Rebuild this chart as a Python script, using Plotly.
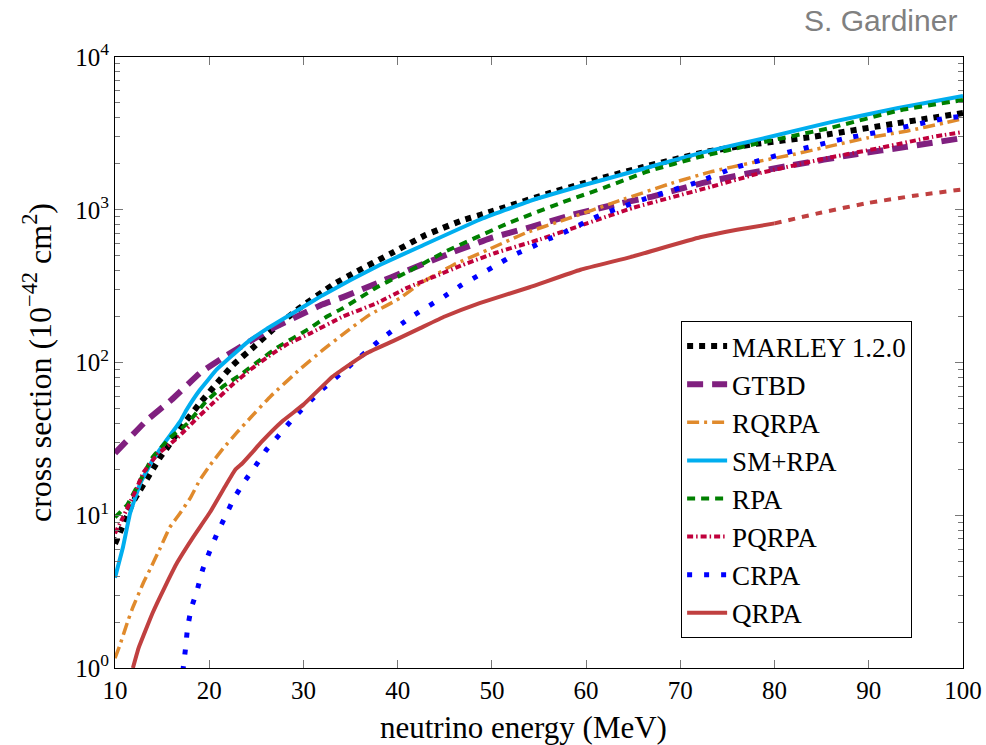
import plotly.graph_objects as go

# ---------------- data ----------------
marley_E = [10, 10.85, 11.4, 11.9, 12.65, 13.4, 14.1, 14.8, 15.6, 17.2, 19, 20.8, 22.5, 24.7, 26.7,
            29.6, 33.1, 35.5, 39.2, 42.9, 46.9, 49.5, 56.2, 61.8, 66, 72.8, 78, 84, 92.6, 100]
marley_V = [6.5, 8.6, 10.3, 12.2, 14.6, 17.3, 20.4, 24, 28, 39, 54, 73, 96, 126, 163,
            228, 322, 390, 514, 680, 855, 955, 1290, 1620, 1900, 2400, 2700, 3000, 3650, 4300]

gtbd_E = [10, 13.4, 16, 19, 21.9, 24, 26.5, 29.3, 32, 34.2, 37.8, 41, 45.6, 49.8, 54.1, 58.6,
          63.3, 67, 72.4, 77, 81.7, 88.8, 94, 100]
gtbd_V = [25.5, 42, 57, 85, 112, 134, 165, 200, 240, 268, 330, 400, 520, 650, 770, 930,
          1090, 1220, 1500, 1720, 1950, 2320, 2580, 2950]

rqrpa_E = [10, 10.5, 11.4, 11.9, 13, 13.7, 14.8, 15.8, 16.9, 18, 19, 20.1, 21.5, 22.9, 24.3, 26.5,
           29.6, 32, 34.6, 37, 40.3, 42.4, 45.9, 49.8, 53.7, 57.6, 63.6, 69.2, 73.2, 77.7, 81.7,
           85.9, 89.8, 94.1, 98.3, 100]
rqrpa_V = [1.16, 1.4, 2.06, 2.5, 3.6, 4.4, 6.1, 8.3, 10.3, 13, 17, 21.3, 27.5, 34.6, 43, 60,
           90, 120, 160, 205, 265, 330, 435, 555, 710, 855, 1150, 1500, 1770, 2040, 2280,
           2610, 2950, 3280, 3730, 3950]

smrpa_E = [10, 10.85, 11.6, 12.7, 14, 15.3, 16.9, 17.6, 19, 20.8, 22.5, 24, 26.1, 29.6, 32, 35,
           38.1, 42.4, 48.7, 54, 59.4, 65, 72.1, 79, 86.1, 93, 100]
smrpa_V = [3.9, 6.2, 10.3, 16.3, 23, 30, 41, 49, 66, 90, 112, 135, 166, 224, 275, 347,
           435, 575, 860, 1140, 1430, 1780, 2350, 2950, 3760, 4620, 5560]

rpa_E = [10, 11.3, 12.7, 14, 15.8, 17.7, 19.7, 21.5, 23.3, 25.5, 27.2, 30.7, 32.5, 34.2, 37.8,
         38.9, 41, 45, 51.7, 57.6, 62, 66.5, 72.1, 78, 85.9, 93.3, 100]
rpa_V = [9.7, 11.7, 17, 24, 32, 40, 56, 70, 83, 105, 125, 168, 200, 227, 311,
         337, 390, 530, 815, 1125, 1400, 1780, 2220, 2700, 3430, 4480, 5230]

pqrpa_E = [10, 10.85, 12.3, 13, 14.5, 16.6, 19, 20.5, 22.5, 24.5, 26.5, 28.3, 30.7, 34.2, 37.8,
           41, 43.8, 46.9, 50.5, 55.1, 60.1, 65, 73.2, 78.5, 85.6, 90.9, 96.8, 100]
pqrpa_V = [7.6, 9.7, 15, 19, 25, 32, 45, 55, 72, 91, 112, 132, 155, 200, 245,
           308, 363, 435, 525, 640, 815, 1030, 1410, 1740, 2180, 2520, 3000, 3230]

crpa_E = [17.2, 17.5, 17.7, 18.1, 18.7, 19.3, 20, 20.8, 21.7, 22.6, 23.7, 24.9, 26.1, 27.5, 28.9,
          31.8, 35, 38.1, 41.5, 45, 46.8, 48.7, 50.5, 52.3, 54.3, 56.2, 58, 59.9, 61.8, 63.8,
          65.7, 71.8, 75.6, 81.7, 87.7, 93, 98.3, 100]
crpa_V = [0.95, 1.37, 1.83, 2.47, 3.2, 4.4, 5.7, 7.5, 9.8, 12.8, 16.5, 21, 27, 34, 43,
          65, 96, 140, 200, 272, 322, 375, 435, 505, 573, 650, 725, 830, 940, 1040,
          1150, 1515, 1870, 2400, 2950, 3400, 3990, 4100]

qrpa_E = [11.9, 12.5, 14, 15.3, 16.6, 18.3, 20.1, 21.7, 22.8, 23.5, 24.5, 25.5, 27.7, 30, 33.1,
          36.7, 39.5, 42.4, 45, 48.7, 54, 59.4, 64.7, 72.1, 76, 80]
qrpa_V = [1.0, 1.35, 2.3, 3.4, 4.9, 7.2, 10.5, 15.5, 20, 21.8, 25.5, 30, 41, 53, 81,
          115, 138, 168, 200, 245, 311, 405, 490, 660, 740, 814]
qrpa_ext_E = [80, 85, 90, 95, 100]
qrpa_ext_V = [814, 960, 1110, 1240, 1360]

x_ticks = [10, 20, 30, 40, 50, 60, 70, 80, 90, 100]
y_ticks = [1, 10, 100, 1000, 10000]
y_ticktext = ["10<sup>0</sup>", "10<sup>1</sup>", "10<sup>2</sup>", "10<sup>3</sup>", "10<sup>4</sup>"]
y_minor = [m * 10 ** d for d in range(4) for m in range(2, 10)]

# ---------------- figure ----------------
fig = go.Figure()

series = [
    ("MARLEY 1.2.0", marley_E, marley_V, "#000000", 6, "6px,6px"),
    ("GTBD", gtbd_E, gtbd_V, "#80207F", 6, "16px,9px"),
    ("RQRPA", rqrpa_E, rqrpa_V, "#E08A2C", 3.5, "12px,5px,3px,5px"),
    ("SM+RPA", smrpa_E, smrpa_V, "#00AEEF", 4, "solid"),
    ("RPA", rpa_E, rpa_V, "#008000", 4, "8px,6px"),
    ("PQRPA", pqrpa_E, pqrpa_V, "#C0003C", 4, "6px,3px,1.5px,3px"),
    ("CRPA", crpa_E, crpa_V, "#0000FF", 5, "5px,12px"),
    ("QRPA", qrpa_E, qrpa_V, "#C04040", 4, "solid"),
]

for i, (name, xs, ys, col, w, dash) in enumerate(series):
    fig.add_trace(go.Scatter(
        x=xs, y=ys, mode="lines", name=name,
        line=dict(color=col, width=w, dash=dash, shape="spline", smoothing=0.3),
        legendgroup="g%d" % i,
    ))

fig.add_trace(go.Scatter(
    x=qrpa_ext_E, y=qrpa_ext_V, mode="lines", showlegend=False,
    line=dict(color="#C04040", width=4, dash="7px,7px", shape="spline", smoothing=0.3),
))

serif = "Liberation Serif"

fig.update_layout(
    width=986, height=745, autosize=False,
    margin=dict(l=115, r=23, t=57, b=77, autoexpand=False),
    paper_bgcolor="white", plot_bgcolor="white",
    font=dict(family=serif, size=22, color="black"),
    showlegend=True,
    legend=dict(
        x=0.94, y=0.049, xanchor="right", yanchor="bottom",
        bgcolor="white", bordercolor="black", borderwidth=1,
        font=dict(family=serif, size=27, color="black"),
        traceorder="grouped", tracegroupgap=0,
        itemwidth=40,
    ),
    annotations=[
        dict(text="S. Gardiner", xref="paper", yref="paper",
             x=1.0, y=1.0, xanchor="right", yanchor="bottom", yshift=18, xshift=-4, showarrow=False,
             font=dict(family="Liberation Sans", size=30, color="#808080")),
        dict(text="neutrino energy (MeV)", xref="paper", yref="paper",
             x=0.4823, y=0, xanchor="center", yanchor="middle", yshift=-59, showarrow=False,
             font=dict(family=serif, size=31, color="black")),
    ],
)

fig.update_xaxes(
    range=[10, 100], tickvals=x_ticks, ticktext=[str(v) for v in x_ticks],
    ticks="inside", ticklen=8, tickwidth=1, tickcolor="#777",
    showline=True, linecolor="black", linewidth=1, mirror="ticks",
    showgrid=False, zeroline=False, automargin=False, ticklabeloverflow="allow",
    tickfont=dict(family=serif, size=25),
)

fig.update_yaxes(
    type="log", range=[0, 4], tickvals=y_ticks, ticktext=y_ticktext,
    ticks="inside", ticklen=8, tickwidth=1, tickcolor="#777",
    minor=dict(ticks="inside", ticklen=5, tickcolor="#777", tickmode="array",
               tickvals=y_minor, showgrid=False),
    showline=True, linecolor="black", linewidth=1, mirror="ticks",
    showgrid=False, zeroline=False, automargin=False,
    tickfont=dict(family=serif, size=25),
    title=dict(text="cross section (10<sup>−42</sup> cm<sup>2</sup>)", font=dict(family=serif, size=32), standoff=14),
)

fig.write_html("out.html")
